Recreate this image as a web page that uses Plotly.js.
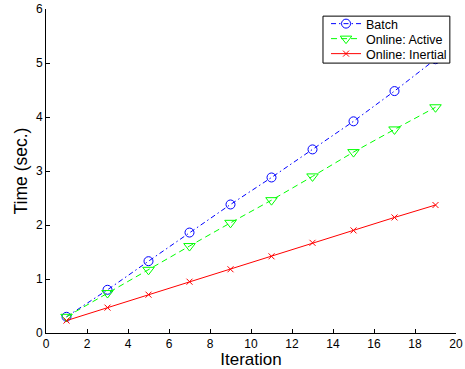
<!DOCTYPE html>
<html>
<head>
<meta charset="utf-8">
<script src="https://cdn.plot.ly/plotly-3.0.1.min.js"></script>
<style>html,body{margin:0;padding:0;background:#fff}#chart{width:465px;height:369px}</style>
</head>
<body>
<div id="chart"></div>
<script>
const iterations = [1, 3, 5, 7, 9, 11, 13, 15, 17, 19];
const batch = [0.30, 0.80, 1.33, 1.86, 2.38, 2.88, 3.40, 3.92, 4.48, 5.07];
const onlineActive = [0.30, 0.74, 1.17, 1.61, 2.04, 2.46, 2.90, 3.35, 3.77, 4.18];
const onlineInertial = [0.23, 0.47, 0.71, 0.95, 1.18, 1.42, 1.67, 1.90, 2.14, 2.37];
const seriesNames = ['Batch', 'Online: Active', 'Online: Inertial'];
const xTicks = [0, 2, 4, 6, 8, 10, 12, 14, 16, 18, 20];
const yTicks = [0, 1, 2, 3, 4, 5, 6];

const traces = [
  {x: iterations, y: batch, name: seriesNames[0], mode: 'lines+markers', legend: 'legend',
   line: {color: '#0000ff', width: 1, dash: '5px,3px,1.5px,3px'},
   marker: {symbol: 'circle-open', size: 9, color: '#0000ff', line: {width: 1}}},
  {x: iterations, y: onlineActive, name: seriesNames[1], mode: 'lines+markers', legend: 'legend2',
   line: {color: '#00ff00', width: 1, dash: '6px,4px'},
   marker: {symbol: 'triangle-down-open', size: 10, color: '#00ff00', line: {width: 1}}},
  {x: iterations, y: onlineInertial, name: seriesNames[2], mode: 'lines+markers', legend: 'legend3',
   line: {color: '#ff0000', width: 1},
   marker: {symbol: 'x-thin-open', size: 6, color: '#ff0000', line: {width: 1, color: '#ff0000'}}}
];

const legendBase = {xanchor: 'left', yanchor: 'middle', bgcolor: 'rgba(0,0,0,0)',
  borderwidth: 0, font: {family: 'Liberation Sans, Arial, sans-serif', size: 12.5, color: '#000'}};

const layout = {
  width: 465, height: 369,
  margin: {l: 46, r: 9, t: 9, b: 36},
  paper_bgcolor: '#fff', plot_bgcolor: '#fff',
  font: {family: 'Liberation Sans, Arial, sans-serif', size: 12, color: '#000'},
  xaxis: {range: [0, 20], tickvals: xTicks, ticktext: xTicks.map(String),
    ticks: 'inside', ticklen: 4, tickcolor: '#000', showline: true, linecolor: '#000', linewidth: 1,
    showgrid: false, zeroline: false, mirror: false,
    title: {text: 'Iteration', font: {size: 17}, standoff: 3}},
  yaxis: {range: [0, 6], tickvals: yTicks, ticktext: yTicks.map(String),
    ticks: 'inside', ticklen: 4, tickcolor: '#000', showline: true, linecolor: '#000', linewidth: 1,
    showgrid: false, zeroline: false, mirror: false,
    title: {text: 'Time (sec.)', font: {size: 17.5}, standoff: 3}},
  shapes: [{type: 'rect', xref: 'paper', yref: 'paper', x0: 0.6756, x1: 0.985, y0: 0.833, y1: 0.978,
    fillcolor: '#fff', line: {color: '#000', width: 1}, layer: 'above'}],
  legend: Object.assign({}, legendBase, {x: 0.683, y: 0.9537}),
  legend2: Object.assign({}, legendBase, {x: 0.683, y: 0.9074}),
  legend3: Object.assign({}, legendBase, {x: 0.683, y: 0.8611}),
  showlegend: true
};

Plotly.newPlot('chart', traces, layout, {displayModeBar: false, staticPlot: true});
</script>
</body>
</html>
